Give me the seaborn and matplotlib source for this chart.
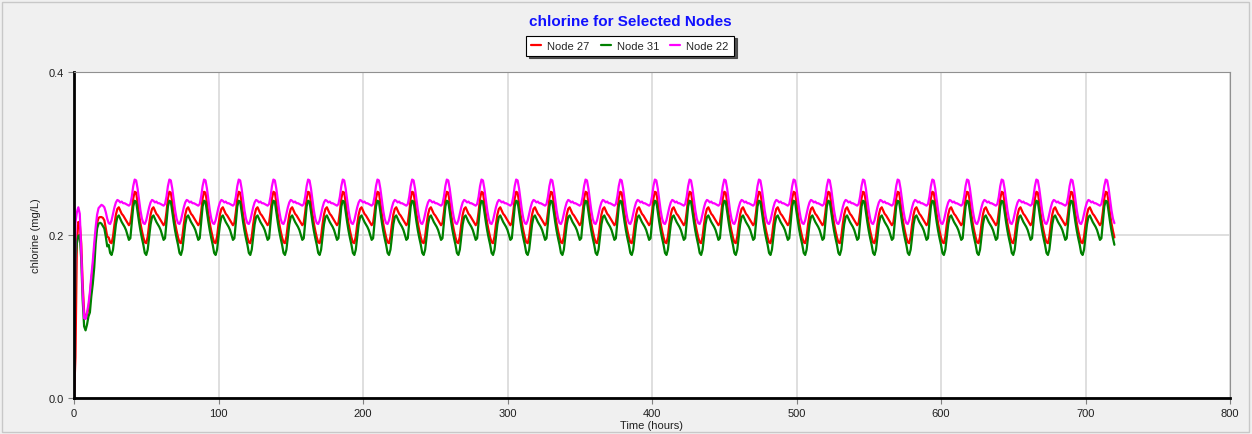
import numpy as np
import pandas as pd
import matplotlib
matplotlib.use("Agg")
import matplotlib.pyplot as plt
from matplotlib.patches import Rectangle
from matplotlib.lines import Line2D
import seaborn as sns

# Node labels and line colours
nodes = ["Node 27", "Node 31", "Node 22"]
colors = ["#ff0000", "#008000", "#ff00ff"]

# Start-up period, hours 0-23 (mg/L)
startup_27 = [0.000, 0.050, 0.190, 0.216, 0.214, 0.190, 0.140, 0.105, 0.098, 0.102,
              0.110, 0.125, 0.145, 0.160, 0.180, 0.200, 0.215, 0.221, 0.222, 0.222,
              0.221, 0.218, 0.208, 0.198]
startup_31 = [0.000, 0.170, 0.190, 0.199, 0.200, 0.170, 0.120, 0.088, 0.083, 0.090,
              0.100, 0.105, 0.125, 0.140, 0.160, 0.190, 0.208, 0.214, 0.215, 0.214,
              0.211, 0.208, 0.198, 0.186]
startup_22 = [0.000, 0.215, 0.228, 0.234, 0.226, 0.180, 0.130, 0.098, 0.097, 0.105,
              0.115, 0.130, 0.150, 0.168, 0.190, 0.210, 0.225, 0.233, 0.235, 0.237,
              0.236, 0.234, 0.228, 0.220]

# Repeating daily cycle by hour of day (mg/L)
daily_27 = [0.197, 0.191, 0.190, 0.198, 0.213, 0.225, 0.232, 0.234, 0.230, 0.226,
            0.224, 0.221, 0.218, 0.215, 0.212, 0.215, 0.228, 0.245, 0.253, 0.252,
            0.240, 0.226, 0.214, 0.205]
daily_31 = [0.188, 0.178, 0.1755, 0.182, 0.198, 0.213, 0.222, 0.224, 0.220, 0.216,
            0.213, 0.210, 0.206, 0.200, 0.194, 0.196, 0.215, 0.235, 0.242, 0.241,
            0.228, 0.216, 0.205, 0.196]
daily_22 = [0.2145, 0.2135, 0.218, 0.226, 0.234, 0.240, 0.243, 0.242, 0.240, 0.241,
            0.239, 0.239, 0.238, 0.237, 0.236, 0.238, 0.247, 0.260, 0.268, 0.267,
            0.257, 0.243, 0.230, 0.220]

n_days = 29  # full days after the start-up day; the run ends at hour 720
x_ticks = [0, 100, 200, 300, 400, 500, 600, 700, 800]
y_ticks = [0.0, 0.2, 0.4]


def build_series(startup, daily):
    return np.concatenate([startup, np.tile(daily, n_days), daily[:1]])


hours = np.arange(len(startup_27) + 24 * n_days + 1)
frames = []
for name, st, dy in [(nodes[0], startup_27, daily_27),
                     (nodes[1], startup_31, daily_31),
                     (nodes[2], startup_22, daily_22)]:
    frames.append(pd.DataFrame({"Time (hours)": hours,
                                "chlorine (mg/L)": build_series(st, dy),
                                "node": name}))
df = pd.concat(frames, ignore_index=True)

sns.set_style("white")
plt.rcParams["font.family"] = ["Liberation Sans", "DejaVu Sans"]

W, H = 1252, 435
fig = plt.figure(figsize=(W / 100, H / 100), dpi=100, facecolor="#f0f0f0")
fig.patches.append(Rectangle((2 / W, 2 / H), 1 - 5 / W, 1 - 5 / H,
                             transform=fig.transFigure, fill=False,
                             edgecolor="#c8c8c8", linewidth=1))

ax = fig.add_axes([74 / W, 1 - 399 / H, (1230 - 74) / W, (399 - 73) / H])
ax.set_facecolor("white")

sns.lineplot(data=df, x="Time (hours)", y="chlorine (mg/L)", hue="node",
             hue_order=nodes, palette=dict(zip(nodes, colors)),
             estimator=None, linewidth=1.6, legend=False, ax=ax)

ax.set_xlim(0, 800)
ax.set_ylim(0, 0.4)
ax.set_xticks(x_ticks)
ax.set_yticks(y_ticks)
ax.set_yticklabels([f"{v:.1f}" for v in y_ticks])
ax.grid(True, color="#dcdcdc", linewidth=1.3)
ax.set_axisbelow(True)

ax.tick_params(axis="both", which="major", direction="out", length=4, width=0.8,
               color="#808080", labelsize=8, labelcolor="#202020", pad=3,
               left=True, bottom=True)

for side in ["left", "bottom"]:
    ax.spines[side].set_color("black")
    ax.spines[side].set_linewidth(2.0)
for side in ["top", "right"]:
    ax.spines[side].set_color("#909090")
    ax.spines[side].set_linewidth(0.8)

ax.set_xlabel("Time (hours)", fontsize=8, color="#202020", labelpad=2)
ax.set_ylabel("chlorine (mg/L)", fontsize=8, color="#202020", labelpad=6)

fig.text(630 / W, 1 - 22 / H, "chlorine for Selected Nodes", ha="center",
         va="center", fontsize=11, fontweight="bold", color="#1010ff")

handles = [Line2D([0], [0], color=c, linewidth=1.6) for c in colors]
leg = fig.legend(handles, nodes, loc="center", ncol=3,
                 bbox_to_anchor=(630 / W, 1 - 46.5 / H), fontsize=8,
                 frameon=True, fancybox=False, shadow={"color": "#404040", "alpha": 0.9},
                 handlelength=0.9, handletextpad=0.55, columnspacing=1.0,
                 borderpad=0.45, borderaxespad=0)
leg.get_frame().set_edgecolor("black")
leg.get_frame().set_linewidth(0.8)
leg.get_frame().set_facecolor("white")

fig.savefig("out.png", dpi=100, facecolor=fig.get_facecolor())
